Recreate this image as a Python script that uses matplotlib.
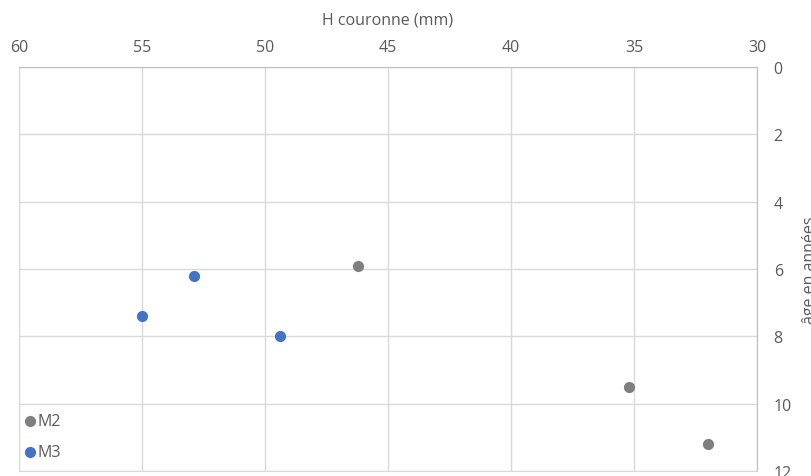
import matplotlib.pyplot as plt

# data
m2_h = [46.2, 35.2, 32.0]
m2_age = [5.9, 9.5, 11.2]
m3_h = [55.0, 52.9, 49.4]
m3_age = [7.4, 6.2, 8.0]

x_ticks = [60, 55, 50, 45, 40, 35, 30]
y_ticks = [0, 2, 4, 6, 8, 10, 12]

plt.rcParams['font.family'] = ['Open Sans', 'DejaVu Sans']

fig = plt.figure(figsize=(8.12, 4.77), dpi=100)
ax = fig.add_axes([19/812, 1 - 472/477, (757 - 19)/812, (472 - 68)/477])

ax.scatter(m2_h, m2_age, s=65, color='#7F7F7F', label='M2', zorder=3, linewidths=0)
ax.scatter(m3_h, m3_age, s=65, color='#4472C4', label='M3', zorder=3, linewidths=0)

ax.set_xlim(60, 30)
ax.set_ylim(12, 0)
ax.set_xticks(x_ticks)
ax.set_yticks(y_ticks)

ax.xaxis.tick_top()
ax.xaxis.set_label_position('top')
ax.yaxis.tick_right()
ax.yaxis.set_label_position('right')
ax.tick_params(length=0, labelsize=11.5, labelcolor='#595959')
ax.tick_params(axis='x', pad=8.5)
ax.tick_params(axis='y', pad=12)

ax.set_xlabel('H couronne (mm)', fontsize=11.5, color='#595959', labelpad=11)
ax.set_ylabel('âge en années', fontsize=11.5, color='#595959', labelpad=7)

ax.grid(True, color='#D9D9D9', linewidth=1)
ax.set_axisbelow(True)
for side in ['left', 'bottom']:
    ax.spines[side].set_color('#D9D9D9')
for side in ['top', 'right']:
    ax.spines[side].set_color('#BFBFBF')

leg = ax.legend(loc='lower left', frameon=False, fontsize=11.5, handletextpad=0.0,
                labelspacing=0.9, borderaxespad=0.0, handlelength=1.0,
                bbox_to_anchor=(-0.005, 0.012))
for t in leg.get_texts():
    t.set_color('#595959')

fig.savefig('out.png', dpi=100)
